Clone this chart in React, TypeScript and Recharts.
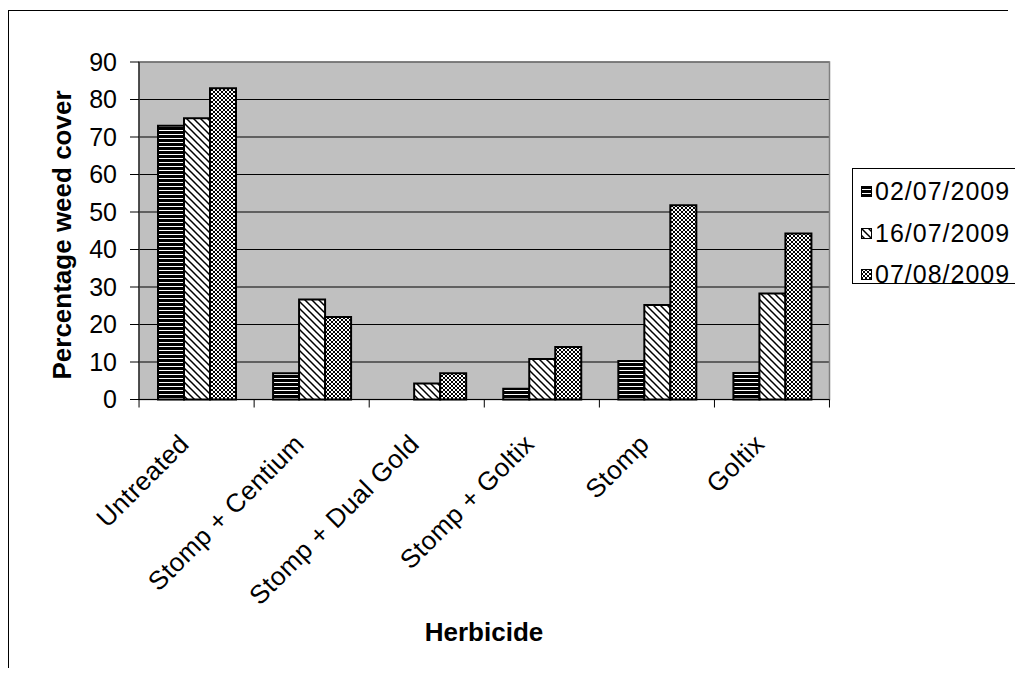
import React from "react";
import { BarChart, Bar, XAxis, YAxis, CartesianGrid, Legend, ReferenceArea, Label } from "recharts";

const categories = ["Untreated", "Stomp + Centium", "Stomp + Dual Gold", "Stomp + Goltix", "Stomp", "Goltix"];
const jul02 = [73, 7, 0, 2.9, 10.3, 7.1];
const jul16 = [75, 26.7, 4.3, 10.8, 25.2, 28.3];
const aug07 = [83, 22, 7, 14, 51.8, 44.3];
const seriesNames = ["02/07/2009", "16/07/2009", "07/08/2009"];
const yTicks = [0, 10, 20, 30, 40, 50, 60, 70, 80, 90];

const FONT = '"Liberation Sans", Arial, Helvetica, sans-serif';
const fills = ["url(#hstripe)", "url(#diag)", "url(#checker)"];

const data = categories.map((name, i) => ({
  name,
  s1: jul02[i],
  s2: jul16[i],
  s3: aug07[i],
}));

const PLOT_W = 690;
const BAND = PLOT_W / categories.length;

// category tick: boundary tick marks + rotated label
const CategoryTick = (props: any) => {
  const { x, y, payload, index } = props;
  const left = x - BAND / 2;
  return (
    <g>
      <line x1={left} y1={y} x2={left} y2={y + 8} stroke="#000" />
      {index === categories.length - 1 && (
        <line x1={x + BAND / 2} y1={y} x2={x + BAND / 2} y2={y + 8} stroke="#000" />
      )}
      <text
        transform={`translate(${x - 6},${y + 46}) rotate(-45)`}
        textAnchor="end"
        fontSize={26}
        letterSpacing={0.4}
        fontFamily={FONT}
        fill="#000"
      >
        {payload.value}
      </text>
    </g>
  );
};

const LegendBox = () => (
  <div
    style={{
      position: "relative",
      width: 165,
      height: 116,
      boxSizing: "border-box",
      border: "1px solid #000",
      background: "#fff",
      fontFamily: FONT,
    }}
  >
    {seriesNames.map((s, i) => (
      <div
        key={s}
        style={{
          position: "absolute",
          left: 8,
          top: [22, 64, 105][i] - 15,
          height: 30,
          display: "flex",
          alignItems: "center",
          whiteSpace: "nowrap",
        }}
      >
        <svg width={11} height={11} style={{ marginRight: 3 }}>
          <rect x={0.5} y={0.5} width={10} height={10} fill={fills[i]} stroke="#000" />
        </svg>
        <span style={{ fontSize: 25, letterSpacing: 1, color: "#000", lineHeight: "30px" }}>{s}</span>
      </div>
    ))}
  </div>
);

export default function App() {
  return (
    <div style={{ position: "relative", width: 1007, height: 660, fontFamily: FONT }}>
      {/* outer chart frame: only its left and top edges fall inside the window */}
      <div style={{ position: "absolute", left: 0, top: 2, width: 1, height: 658, background: "#000" }} />
      <div style={{ position: "absolute", left: 0, top: 2, width: 1000, height: 1, background: "#000" }} />
      <svg width={0} height={0} style={{ position: "absolute" }}>
        <defs>
          <pattern id="hstripe" patternUnits="userSpaceOnUse" width={4} height={4}>
            <rect width={4} height={4} fill="#fff" />
            <rect width={4} height={3} fill="#000" />
          </pattern>
          <pattern id="diag" patternUnits="userSpaceOnUse" width={7} height={7}>
            <rect width={7} height={7} fill="#fff" />
            <path d="M-1,-1 L8,8 M-1,6 L1,8 M6,-1 L8,1" stroke="#000" strokeWidth={1.5} />
          </pattern>
          <pattern id="checker" patternUnits="userSpaceOnUse" width={4} height={4}>
            <rect width={4} height={4} fill="#fff" />
            <rect x={0} y={0} width={2} height={2} fill="#000" />
            <rect x={2} y={2} width={2} height={2} fill="#000" />
          </pattern>
        </defs>
      </svg>
      <div style={{ position: "absolute", left: 1, top: 3 }}>
        <BarChart
          width={1006}
          height={655}
          data={data}
          margin={{ top: 51, right: 185.5, bottom: 66.5, left: 0 }}
          barSize={26}
          barGap={0}
        >
          <CartesianGrid vertical={false} fill="#C0C0C0" stroke="#000" strokeOpacity={1} />
          <ReferenceArea y1={0} y2={90} fill="none" stroke="#808080" strokeWidth={1.5} />
          <XAxis
            dataKey="name"
            interval={0}
            height={200}
            tickLine={false}
            tickSize={0}
            tickMargin={0}
            axisLine={{ stroke: "#000" }}
            tick={<CategoryTick />}
          >
            <Label
              content={() => (
                <text x={475} y={621} textAnchor="middle" dominantBaseline="central" fontSize={26} fontWeight="bold" fontFamily={FONT} fill="#000">
                  Herbicide
                </text>
              )}
            />
          </XAxis>
          <YAxis
            width={130}
            domain={[0, 90]}
            ticks={yTicks}
            interval={0}
            tickSize={9}
            tickMargin={13}
            tickLine={{ stroke: "#000" }}
            axisLine={{ stroke: "#000" }}
            tick={{ fontSize: 25, fill: "#000", fontFamily: FONT }}
          >
            <Label
              content={() => (
                <text
                  transform="translate(53,224) rotate(-90)"
                  textAnchor="middle"
                  dominantBaseline="central"
                  fontSize={26}
                  fontWeight="bold"
                  fontFamily={FONT}
                  fill="#000"
                >
                  Percentage weed cover
                </text>
              )}
            />
          </YAxis>
          <Legend
            layout="horizontal"
            align="center"
            verticalAlign="middle"
            content={<LegendBox />}
            wrapperStyle={{ position: "absolute", left: 843, top: 157, width: 165, height: 116 }}
          />
          <Bar dataKey="s1" name={seriesNames[0]} fill={fills[0]} stroke="#000" strokeWidth={2} isAnimationActive={false} />
          <Bar dataKey="s2" name={seriesNames[1]} fill={fills[1]} stroke="#000" strokeWidth={2} isAnimationActive={false} />
          <Bar dataKey="s3" name={seriesNames[2]} fill={fills[2]} stroke="#000" strokeWidth={2} isAnimationActive={false} />
        </BarChart>
      </div>
    </div>
  );
}
